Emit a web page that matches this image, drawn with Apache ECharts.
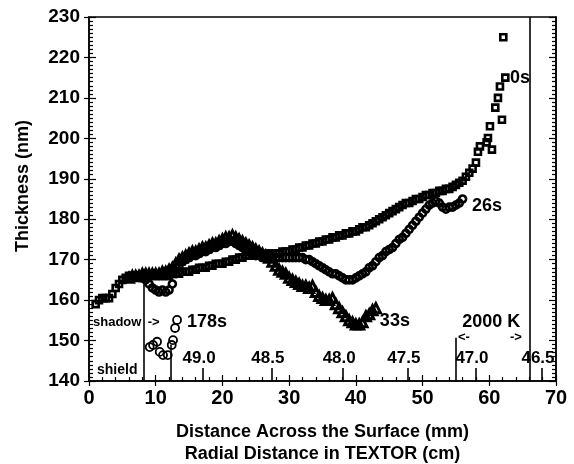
<!DOCTYPE html>
<html>
<head>
<meta charset="utf-8">
<script src="https://cdn.jsdelivr.net/npm/echarts@6/dist/echarts.min.js"></script>
<style>html,body{margin:0;padding:0;background:#fff}#c{width:574px;height:464px}</style>
</head>
<body>
<div id="c"></div>
<script>
// ---- data (x = distance across surface in mm, y = thickness in nm) ----
const s0x = [1,1.5,2,2.5,3,3.5,4,4.5,5,5.5,6,6.5,7,7.5,8,8.5,9,9.5,10,10.5,11,11.5,12,12.5,13,13.5,14,14.5,15,15.5,16,16.5,17,17.5,18,18.5,19,19.5,20,20.5,21,21.5,22,22.5,23,23.5,24,24.5,25,25.5,26,26.5,27,27.5,28,28.5,29,29.5,30,30.5,31,31.5,32,32.5,33,33.5,34,34.5,35,35.5,36,36.5,37,37.5,38,38.5,39,39.5,40,40.5,41,41.5,42,42.5,43,43.5,44,44.5,45,45.5,46,46.5,47,47.5,48,48.5,49,49.5,50,50.5,51,51.5,52,52.5,53,53.5,54,54.5,55,55.5,56,56.5,57,57.5,58,58.3,58.6,59.6,59.8,60.1,60.4,60.9,61.3,61.6,61.9,62.4,62.1];
const s0y = [159,160,160.5,160.5,160.5,161.5,163,164,165,165.5,166,166,166,165.5,165.5,166,166,166,166,166,166,166,166,166.5,166.5,166.5,167,167,167,167.5,167.5,168,168,168,168.5,168.5,169,169,169,169.5,169.5,170,170,170.5,170.5,171,171,171,171,171,171,171.5,171.5,171.5,171.5,171.5,172,172,172,172.5,172.5,173,173,173.5,173.5,174,174,174.5,174.5,175,175,175.5,175.5,176,176,176.5,176.5,177,177,177.5,178,178,178.5,179,179.5,180,180.5,181,181.5,182,182.5,183,183.5,184,184,184.5,185,185,185.5,186,186,186.5,186.5,187,187,187.5,187.5,188,188.5,189,189.5,190.5,191.5,192.5,194,196.7,198,199,200.1,203,197.2,207.6,210,212.8,204.6,215,225];

const s26x = [7,7.5,8,8.5,9,9.5,10,10.5,11,11.5,12,12.5,13,13.5,14,14.5,15,15.5,16,16.5,17,17.5,18,18.5,19,19.5,20,20.5,21,21.5,22,22.5,23,23.5,24,24.5,25,25.5,26,26.5,27,27.5,28,28.5,29,29.5,30,30.5,31,31.5,32,32.5,33,33.5,34,34.5,35,35.5,36,36.5,37,37.5,38,38.5,39,39.5,40,40.5,41,41.5,42,42.5,43,43.5,44,44.5,45,45.5,46,46.5,47,47.5,48,48.5,49,49.5,50,50.5,51,51.5,52,52.5,53,53.5,54,54.5,55,55.5,56];
const s26y = [166,166,165.5,165,164,163,162.5,162,162.5,162,162.5,164,166.5,168.5,169.5,170,170.5,171,171,171.5,172,172,172.5,173,173,173.5,174,174,174.5,174.5,174,173.5,173,172.5,172,171.5,171,171,170.5,170.5,170.5,170.5,170.5,170.5,170.5,170.5,170.5,170.5,170.5,170.5,170.5,170,170,169.5,169,168.5,168,167.5,167,166.5,166.5,166,165.5,165,165,165,165.5,166,166.5,167,168,168.5,169.5,170.5,171,172,172.5,173,174,175,175.5,176.5,177.5,178.5,179.5,180.5,181.5,182.5,183.5,184,184.5,184,183,182.5,183,183,183.5,184,185];

const s33x = [6,6.5,7,7.5,8,8.5,9,9.5,10,10.5,11,11.5,12,12.5,13,13.5,14,14.5,15,15.5,16,16.5,17,17.5,18,18.5,19,19.5,20,20.5,21,21.5,22,22.5,23,23.5,24,24.5,25,25.5,26,26.5,27,27.5,28,28.5,29,29.5,30,30.5,31,31.5,32,32.5,33,33.5,34,34.5,35,35.5,36,36.5,37,37.5,38,38.5,39,39.5,40,40.5,41,41.5,42,42.5,43];
const s33y = [165.5,166,166,166,166.5,166.5,166.5,166.5,166.5,166.5,167,167,167.5,168,169,170,170.5,171,171.5,172,172,172.5,173,173,173.5,174,174,174.5,175,175.5,175.5,176,175.5,175,174.5,174,173.5,173,172.5,172,171.5,171,170.5,169.5,168.5,167.5,167,166.5,165.5,165,164.5,164,163.5,163.5,163,163.5,162,161,160.5,160,160,160.5,159,158,157,156,155,154.5,154,154,154.5,156,156.5,157.5,158];

const s178x = [9.1,9.6,10.2,10.6,11.1,11.8,12.4,12.6,12.9,13.2];
const s178y = [148.4,148.9,149.7,147.2,146.4,146.4,148.9,150.1,153.1,155.1];

// secondary scale: radial distance in TEXTOR (cm) at positions along the surface (mm)
const radialLabels = ['49.0','48.5','48.0','47.5','47.0','46.5'];
const radialAt = [17.1,27.4,38.1,47.8,58.0,67.9];

// marker lines (mm) with their extent in nm
const markX = [8.2,12.2,55,66];
const markTop = [165.5,149,150.7,230];

// annotations
const noteText = ['shadow','->','shield','178s','33s','26s','0s','2000 K','<-','->'];
const noteX = [0.6,8.8,1.2,14.7,43.6,57.4,63.1,60.3,55.3,63.1];
const noteY = [154.6,154.6,142.7,154.6,154.9,183.3,215,154.6,150.7,150.7];

const FF = "'Liberation Sans',Arial,Helvetica,sans-serif";
const pairs = (xs, ys) => xs.map((x, i) => [x, ys[i]]);
const black = '#000';

const noteSizes = [13,13,14,18,18,18,18,18,13,13];
const noteAlign = ['left','left','left','left','left','left','left','center','left','left'];
const notes = noteText.map((t, i) => ({
  value: [noteX[i], noteY[i]],
  label: {show: true, formatter: t, fontSize: noteSizes[i], align: noteAlign[i]}
}));
const radialNotes = radialLabels.map((t, i) => ({
  value: [radialAt[i], 145.5],
  label: {show: true, formatter: t, fontSize: 17, align: 'center', offset: [-4, 0]}
}));

const lines = markX.map((x, i) => [{coord: [x, 140]}, {coord: [x, markTop[i]]}])
  .concat(radialAt.map(x => [{coord: [x, 140]}, {coord: [x, 143.2]}]));

const tickStyle = {color: black, width: 1.2};
const chart = echarts.init(document.getElementById('c'), null, {renderer: 'canvas'});
chart.setOption({
  animation: false,
  backgroundColor: '#fff',
  grid: {left: 89, right: 18, top: 17, bottom: 83, show: true, borderColor: black, borderWidth: 1.5,
         backgroundColor: 'transparent', containLabel: false, outerBoundsMode: 'none'},
  xAxis: [
    {type: 'value', min: 0, max: 70, interval: 10, position: 'bottom',
     axisLine: {lineStyle: {color: black, width: 1.5}},
     axisTick: {inside: false, length: 5, lineStyle: tickStyle},
     axisLabel: {color: black, fontSize: 20, fontWeight: 'bold', fontFamily: FF, margin: 7},
     splitLine: {show: false},
     name: 'Distance Across the Surface (mm)\nRadial Distance in TEXTOR (cm)',
     nameLocation: 'middle', nameGap: 40,
     nameTextStyle: {color: black, fontSize: 18, fontWeight: 'bold', fontFamily: FF, lineHeight: 22}},
    {type: 'value', min: 0, max: 70, interval: 10, position: 'bottom',
     axisLine: {show: false}, axisLabel: {show: false}, splitLine: {show: false},
     axisTick: {inside: true, length: 6, lineStyle: tickStyle},
     minorTick: {show: true, splitNumber: 5, length: 4, lineStyle: tickStyle}}
  ],
  yAxis: [
    {type: 'value', min: 140, max: 230, interval: 10, position: 'left',
     axisLine: {show: true, lineStyle: {color: black, width: 1.5}},
     axisTick: {show: true, inside: false, length: 5, lineStyle: tickStyle},
     axisLabel: {color: black, fontSize: 19, fontWeight: 'bold', fontFamily: FF, margin: 9},
     splitLine: {show: false}},
    {type: 'value', min: 140, max: 230, interval: 10, position: 'left',
     axisLine: {show: false}, axisLabel: {show: false}, splitLine: {show: false},
     axisTick: {show: true, inside: true, length: 7, lineStyle: tickStyle},
     minorTick: {show: true, splitNumber: 10, length: 4, lineStyle: tickStyle}},
    {type: 'value', min: 140, max: 230, interval: 10, position: 'right',
     axisLine: {show: true, lineStyle: {color: black, width: 1.5}}, axisLabel: {show: false}, splitLine: {show: false},
     axisTick: {show: true, inside: true, length: 7, lineStyle: tickStyle},
     minorTick: {show: true, splitNumber: 10, length: 4, lineStyle: tickStyle}}
  ],
  graphic: [{
    type: 'text', x: 23, y: 186, rotation: Math.PI / 2,
    style: {text: 'Thickness (nm)', fill: black, align: 'center', verticalAlign: 'middle',
            font: "bold 18px 'Liberation Sans',Arial,Helvetica,sans-serif"}
  }],
  series: [
    {name: '0s', type: 'scatter', data: pairs(s0x, s0y), symbol: 'rect', symbolSize: 6,
     itemStyle: {color: 'rgba(0,0,0,0)', borderColor: black, borderWidth: 2.6, opacity: 1}},
    {name: '26s', type: 'scatter', data: pairs(s26x, s26y), symbol: 'circle', symbolSize: 7,
     itemStyle: {color: 'rgba(0,0,0,0)', borderColor: black, borderWidth: 2.6, opacity: 1}},
    {name: '33s', type: 'scatter', data: pairs(s33x, s33y), symbol: 'triangle', symbolSize: 9,
     itemStyle: {color: 'rgba(0,0,0,0)', borderColor: black, borderWidth: 3, opacity: 1}},
    {name: '178s', type: 'scatter', data: pairs(s178x, s178y), symbol: 'circle', symbolSize: 8,
     itemStyle: {color: 'rgba(0,0,0,0)', borderColor: black, borderWidth: 1.8, opacity: 1}},
    {name: 'notes', type: 'scatter', data: notes.concat(radialNotes), symbolSize: 0, silent: true,
     itemStyle: {opacity: 1},
     label: {show: true, position: 'inside', color: black, fontWeight: 'bold', fontFamily: FF,
             verticalAlign: 'middle', textBorderWidth: 0, textBorderColor: 'transparent'},
     markLine: {silent: true, symbol: ['none', 'none'], label: {show: false},
                lineStyle: {color: black, width: 1.6, type: 'solid'}, data: lines}}
  ]
});
</script>
</body>
</html>
